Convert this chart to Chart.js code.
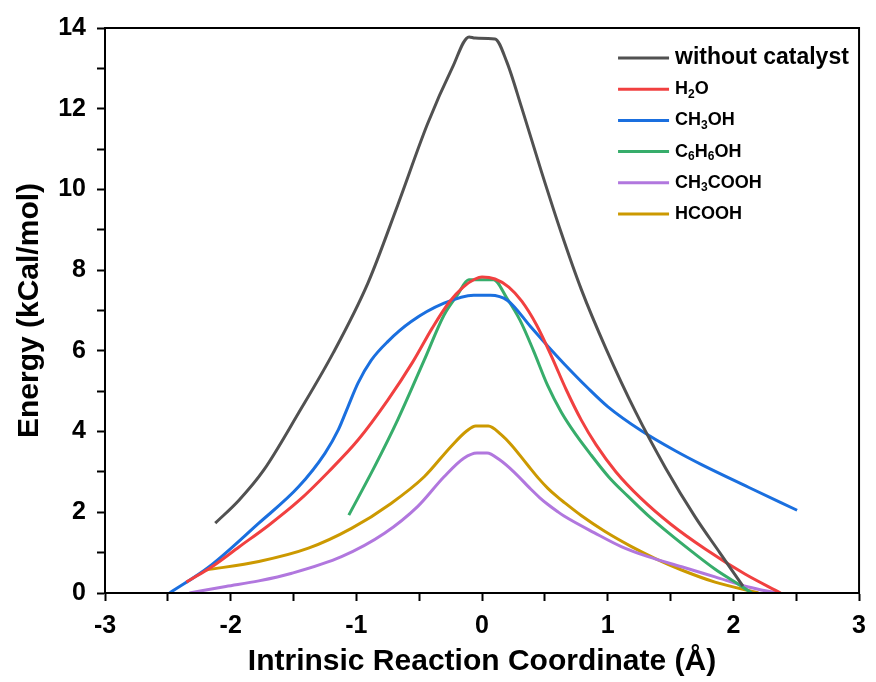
<!DOCTYPE html>
<html>
<head>
<meta charset="utf-8">
<script src="https://cdn.jsdelivr.net/npm/chart.js@4.4.1/dist/chart.umd.min.js"></script>
<style>
    html, body { margin: 0; padding: 0; background: #fff; }
    #wrap { width: 876px; height: 682px; }
</style>
</head>
<body>
<div id="wrap"><canvas id="chart" width="876" height="682"></canvas></div>
<script>
// Series names (digits inside formulas are drawn as subscripts) and colours
const seriesNames = ["without catalyst", "H2O", "CH3OH", "C6H6OH", "CH3COOH", "HCOOH"];
const seriesColors = ["#515151", "#F14040", "#1A6FDF", "#37AD6B", "#B177DE", "#CC9900"];

// Values
const noCatX = [-2.123, -1.934, -1.736, -1.460, -1.184, -0.908, -0.671, -0.434, -0.237, -0.103, -0.055, 0.103, 0.197, 0.316, 0.474, 0.631, 0.789, 0.987, 1.223, 1.460, 1.697, 1.894, 2.076];
const noCatY = [1.73, 2.30, 3.05, 4.46, 5.95, 7.68, 9.61, 11.62, 13.01, 13.78, 13.75, 13.73, 13.16, 12.02, 10.43, 8.92, 7.53, 6.05, 4.48, 3.10, 1.88, 0.99, 0.17];

const waterX = [-2.352, -2.131, -1.934, -1.697, -1.460, -1.223, -0.987, -0.750, -0.552, -0.395, -0.260, -0.150, -0.055, 0.0, 0.103, 0.213, 0.316, 0.434, 0.552, 0.671, 0.789, 0.908, 1.066, 1.263, 1.500, 1.776, 2.092, 2.376];
const waterY = [0.27, 0.69, 1.14, 1.68, 2.28, 3.00, 3.79, 4.78, 5.72, 6.57, 7.21, 7.58, 7.78, 7.83, 7.78, 7.58, 7.23, 6.64, 5.87, 5.03, 4.29, 3.67, 3.00, 2.35, 1.71, 1.09, 0.47, 0.0];

const methanolX = [-2.486, -2.171, -1.776, -1.460, -1.250, -1.144, -1.066, -0.987, -0.881, -0.750, -0.566, -0.302, -0.066, 0.066, 0.203, 0.389, 0.522, 0.656, 0.842, 1.000, 1.268, 1.534, 1.747, 2.120, 2.507];
const methanolY = [0.0, 0.65, 1.73, 2.63, 3.46, 4.04, 4.62, 5.20, 5.77, 6.23, 6.72, 7.18, 7.38, 7.38, 7.25, 6.59, 6.12, 5.67, 5.08, 4.62, 4.02, 3.53, 3.18, 2.62, 2.05];

const phenolX = [-1.060, -0.855, -0.671, -0.460, -0.302, -0.197, -0.105, 0.092, 0.197, 0.302, 0.410, 0.521, 0.631, 0.750, 0.868, 1.010, 1.160, 1.318, 1.484, 1.673, 1.855, 2.013, 2.147];
const phenolY = [1.93, 3.13, 4.29, 5.77, 6.89, 7.38, 7.76, 7.76, 7.31, 6.76, 6.00, 5.15, 4.48, 3.91, 3.42, 2.87, 2.40, 1.93, 1.49, 1.02, 0.59, 0.27, 0.0];

const aceticX = [-2.328, -2.039, -1.776, -1.513, -1.118, -0.776, -0.513, -0.302, -0.145, -0.04, 0.04, 0.140, 0.257, 0.389, 0.460, 0.522, 0.600, 0.656, 0.895, 1.108, 1.321, 1.588, 1.854, 2.120, 2.340];
const aceticY = [0.0, 0.16, 0.30, 0.49, 0.90, 1.48, 2.14, 2.88, 3.34, 3.47, 3.47, 3.30, 2.99, 2.57, 2.36, 2.20, 2.02, 1.90, 1.49, 1.15, 0.90, 0.65, 0.40, 0.15, 0.0];

const formicX = [-2.197, -1.776, -1.381, -1.039, -0.724, -0.460, -0.250, -0.120, -0.050, 0.050, 0.150, 0.230, 0.363, 0.450, 0.522, 0.600, 0.656, 0.789, 0.976, 1.189, 1.375, 1.588, 1.854, 2.200];
const formicY = [0.57, 0.78, 1.11, 1.60, 2.22, 2.88, 3.62, 4.02, 4.14, 4.14, 3.93, 3.68, 3.17, 2.84, 2.60, 2.38, 2.24, 1.92, 1.53, 1.15, 0.86, 0.57, 0.27, 0.0];

const seriesX = [noCatX, waterX, methanolX, phenolX, aceticX, formicX];
const seriesY = [noCatY, waterY, methanolY, phenolY, aceticY, formicY];

const FONT = "'Liberation Sans', Arial, sans-serif";

// box round the plot area (top and right sides)
const framePlugin = {
    id: "frame",
    afterDatasetsDraw(chart) {
        const { ctx, chartArea: a } = chart;
        ctx.save();
        ctx.strokeStyle = "#000";
        ctx.lineWidth = 2;
        ctx.strokeRect(a.left, a.top, a.right - a.left, a.bottom - a.top);
        ctx.restore();
    }
};

// legend with subscripted formulas
const formulaLegend = {
    id: "formulaLegend",
    afterDraw(chart) {
        const { ctx, chartArea: a } = chart;
        const lineX = a.right - 241;
        const textX = lineX + 57;
        ctx.save();
        ctx.textBaseline = "middle";
        ctx.textAlign = "left";
        seriesNames.forEach((name, i) => {
            const y = a.top + 30 + i * 31.2;
            ctx.strokeStyle = seriesColors[i];
            ctx.lineWidth = 3;
            ctx.beginPath();
            ctx.moveTo(lineX, y);
            ctx.lineTo(lineX + 51, y);
            ctx.stroke();

            ctx.fillStyle = "#000";
            const size = (i === 0 ? 23 : 18);
            let x = textX;
            name.split(/(\d+)/).forEach((part) => {
                if (!part) return;
                const isSub = /^\d+$/.test(part);
                ctx.font = "bold " + (isSub ? 12 : size) + "px " + FONT;
                ctx.fillText(part, x, y + (isSub ? 5 : 0));
                x += ctx.measureText(part).width;
            });
        });
        ctx.restore();
    }
};

const datasets = seriesNames.map((name, i) => ({
    label: name,
    data: seriesX[i].map((x, j) => ({ x: x, y: seriesY[i][j] })),
    borderColor: seriesColors[i],
    backgroundColor: seriesColors[i],
    borderWidth: 3,
    pointRadius: 0,
    fill: false,
    cubicInterpolationMode: "monotone"
}));

new Chart(document.getElementById("chart"), {
    type: "line",
    data: { datasets: datasets },
    plugins: [framePlugin, formulaLegend],
    options: {
        responsive: false,
        animation: false,
        layout: { padding: { top: 28, right: 11, left: 0, bottom: 0 } },
        plugins: {
            legend: { display: false },
            tooltip: { enabled: false }
        },
        scales: {
            x: {
                type: "linear",
                min: -3,
                max: 3,
                afterFit: (scale) => { scale.height = 89; },
                ticks: {
                    stepSize: 0.5,
                    autoSkip: false,
                    maxRotation: 0,
                    padding: 10,
                    color: "#000",
                    font: { family: FONT, size: 25, weight: "bold" },
                    callback: (value) => (Number.isInteger(value) ? String(value) : "")
                },
                grid: { drawOnChartArea: false, drawTicks: true, tickLength: 8, tickWidth: 2, tickColor: "#000" },
                border: { display: true, color: "#000", width: 2 },
                title: {
                    display: true,
                    text: "Intrinsic Reaction Coordinate (Å)",
                    color: "#000",
                    font: { family: FONT, size: 30, weight: "bold" },
                    padding: { top: 0, bottom: 2 }
                }
            },
            y: {
                min: 0,
                max: 14,
                afterFit: (scale) => { scale.width = 105; },
                ticks: {
                    stepSize: 1,
                    autoSkip: false,
                    padding: 11,
                    color: "#000",
                    font: { family: FONT, size: 25, weight: "bold" },
                    callback: (value) => (value % 2 === 0 ? String(value) : "")
                },
                grid: { drawOnChartArea: false, drawTicks: true, tickLength: 8, tickWidth: 2, tickColor: "#000" },
                border: { display: true, color: "#000", width: 2 },
                title: {
                    display: true,
                    text: "Energy (kCal/mol)",
                    color: "#000",
                    font: { family: FONT, size: 30, weight: "bold" },
                    padding: { top: 12, bottom: 0 }
                }
            }
        }
    }
});
</script>
</body>
</html>
